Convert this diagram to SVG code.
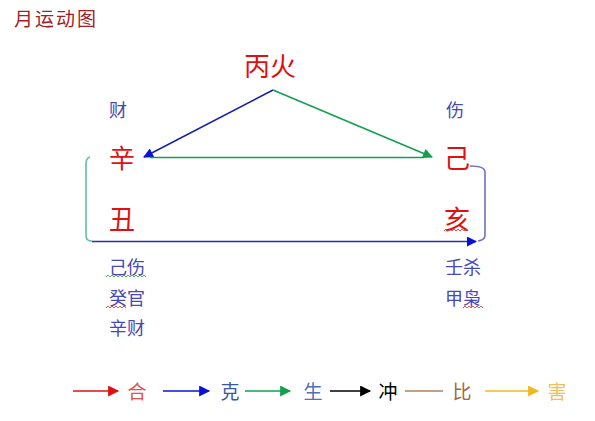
<svg xmlns="http://www.w3.org/2000/svg" width="595" height="421" viewBox="0 0 595 421">
<defs>
<style>
text{font-family:"Noto Sans CJK SC","Noto Sans",sans-serif;text-anchor:middle;dominant-baseline:central}
.big{font-size:26px;fill:#e01010}
.sm{font-size:18px;fill:#4848b8}
.lg{font-size:19px}
.ln{fill:none;stroke-width:1.6}
.sq{fill:none;stroke-width:0.8}
</style>
<marker id="aB" viewBox="0 0 10 10" refX="9" refY="5" markerWidth="12" markerHeight="10" markerUnits="userSpaceOnUse" orient="auto"><path d="M0,0L10,5L0,10z" fill="#0a10d8"/></marker>
<marker id="aG" viewBox="0 0 10 10" refX="9" refY="5" markerWidth="12" markerHeight="10" markerUnits="userSpaceOnUse" orient="auto"><path d="M0,0L10,5L0,10z" fill="#10a050"/></marker>
<marker id="aR" viewBox="0 0 10 10" refX="9" refY="5" markerWidth="13" markerHeight="11" markerUnits="userSpaceOnUse" orient="auto"><path d="M0,0L10,5L0,10z" fill="#e01010"/></marker>
<marker id="aB2" viewBox="0 0 10 10" refX="9" refY="5" markerWidth="13" markerHeight="11" markerUnits="userSpaceOnUse" orient="auto"><path d="M0,0L10,5L0,10z" fill="#0a10d8"/></marker>
<marker id="aG2" viewBox="0 0 10 10" refX="9" refY="5" markerWidth="13" markerHeight="11" markerUnits="userSpaceOnUse" orient="auto"><path d="M0,0L10,5L0,10z" fill="#10a050"/></marker>
<marker id="aK" viewBox="0 0 10 10" refX="9" refY="5" markerWidth="13" markerHeight="11" markerUnits="userSpaceOnUse" orient="auto"><path d="M0,0L10,5L0,10z" fill="#000"/></marker>
<marker id="aY" viewBox="0 0 10 10" refX="9" refY="5" markerWidth="13" markerHeight="11" markerUnits="userSpaceOnUse" orient="auto"><path d="M0,0L10,5L0,10z" fill="#f0b820"/></marker>
</defs>
<rect width="595" height="421" fill="#fff"/>
<text id="title" x="56" y="17" style="font-size:19px;fill:#a02028;letter-spacing:2px">月运动图</text>

<g id="connectors">
<line class="ln" x1="273" y1="90" x2="144" y2="157" stroke="#1820a8" marker-end="url(#aB)"/>
<line class="ln" x1="273" y1="90" x2="432" y2="157" stroke="#10a050" marker-end="url(#aG)"/>
<line class="ln" x1="150" y1="157.5" x2="424" y2="157.5" stroke="#10a050"/>
<path class="ln" d="M90,157 Q86,158 86,164 L86,236 Q86,241 92,241" stroke="#60c0a0"/>
<line class="ln" x1="92" y1="241.5" x2="476" y2="241.5" stroke="#2830b0" marker-end="url(#aB)"/>
<path class="ln" d="M470,166 Q485,166 485,172 L485,235 Q485,240 478,241" stroke="#7070c8"/>
</g>

<g id="n-bing"><text class="big" x="270" y="64">丙火</text></g>
<g id="n-cai"><text class="sm" x="118" y="109">财</text></g>
<g id="n-shang"><text class="sm" x="455" y="109">伤</text></g>
<g id="n-xin"><text class="big" x="122" y="156">辛</text></g>
<g id="n-ji"><text class="big" x="457" y="156">己</text></g>
<g id="n-chou"><text class="big" x="122" y="217">丑</text></g>
<g id="n-hai"><text class="big" x="457" y="217">亥</text>
<path class="sq" stroke="#d03030" d="M444,231 l2,-2 l2,2 l2,-2 l2,2 l2,-2 l2,2 l2,-2 l2,2 l2,-2 l2,2 l2,-2 l2,2"/></g>

<g id="n-left">
<text class="sm" x="127" y="266">己伤</text>
<path class="sq" stroke="#30a030" d="M106,277 l2,-2 l2,2 l2,-2 l2,2 l2,-2 l2,2 l2,-2 l2,2 l2,-2 l2,2 l2,-2 l2,2 l2,-2 l2,2 l2,-2 l2,2 l2,-2 l2,2 l2,-2 l2,2"/>
<text class="sm" x="127" y="297">癸官</text>
<path class="sq" stroke="#d03030" d="M106,308 l2,-2 l2,2 l2,-2 l2,2 l2,-2 l2,2 l2,-2 l2,2 l2,-2 l2,2"/>
<text class="sm" x="127" y="327">辛财</text>
</g>
<g id="n-right">
<text class="sm" x="463" y="266">壬杀</text>
<text class="sm" x="463" y="297">甲枭</text>
<path class="sq" stroke="#d03030" d="M463,308 l2,-2 l2,2 l2,-2 l2,2 l2,-2 l2,2 l2,-2 l2,2 l2,-2 l2,2"/>
</g>

<g id="legend">
<line class="ln" x1="73" y1="391" x2="118" y2="391" stroke="#e01010" marker-end="url(#aR)"/>
<text class="lg" x="137" y="390" fill="#e05050">合</text>
<line class="ln" x1="163" y1="391" x2="209" y2="391" stroke="#0a10d8" marker-end="url(#aB2)"/>
<text class="lg" x="230" y="390" fill="#3858a0">克</text>
<line class="ln" x1="245" y1="391" x2="290" y2="391" stroke="#10a050" marker-end="url(#aG2)"/>
<text class="lg" x="313" y="390" fill="#5070b8">生</text>
<line class="ln" x1="330" y1="391" x2="370" y2="391" stroke="#000" marker-end="url(#aK)"/>
<text class="lg" x="388" y="390" fill="#000">冲</text>
<line class="ln" x1="405" y1="391" x2="443" y2="391" stroke="#b08060"/>
<text class="lg" x="462" y="390" fill="#9a6a40">比</text>
<line class="ln" x1="485" y1="391" x2="538" y2="391" stroke="#f0b820" marker-end="url(#aY)"/>
<text class="lg" x="557" y="390" fill="#f0c060">害</text>
</g>
</svg>
